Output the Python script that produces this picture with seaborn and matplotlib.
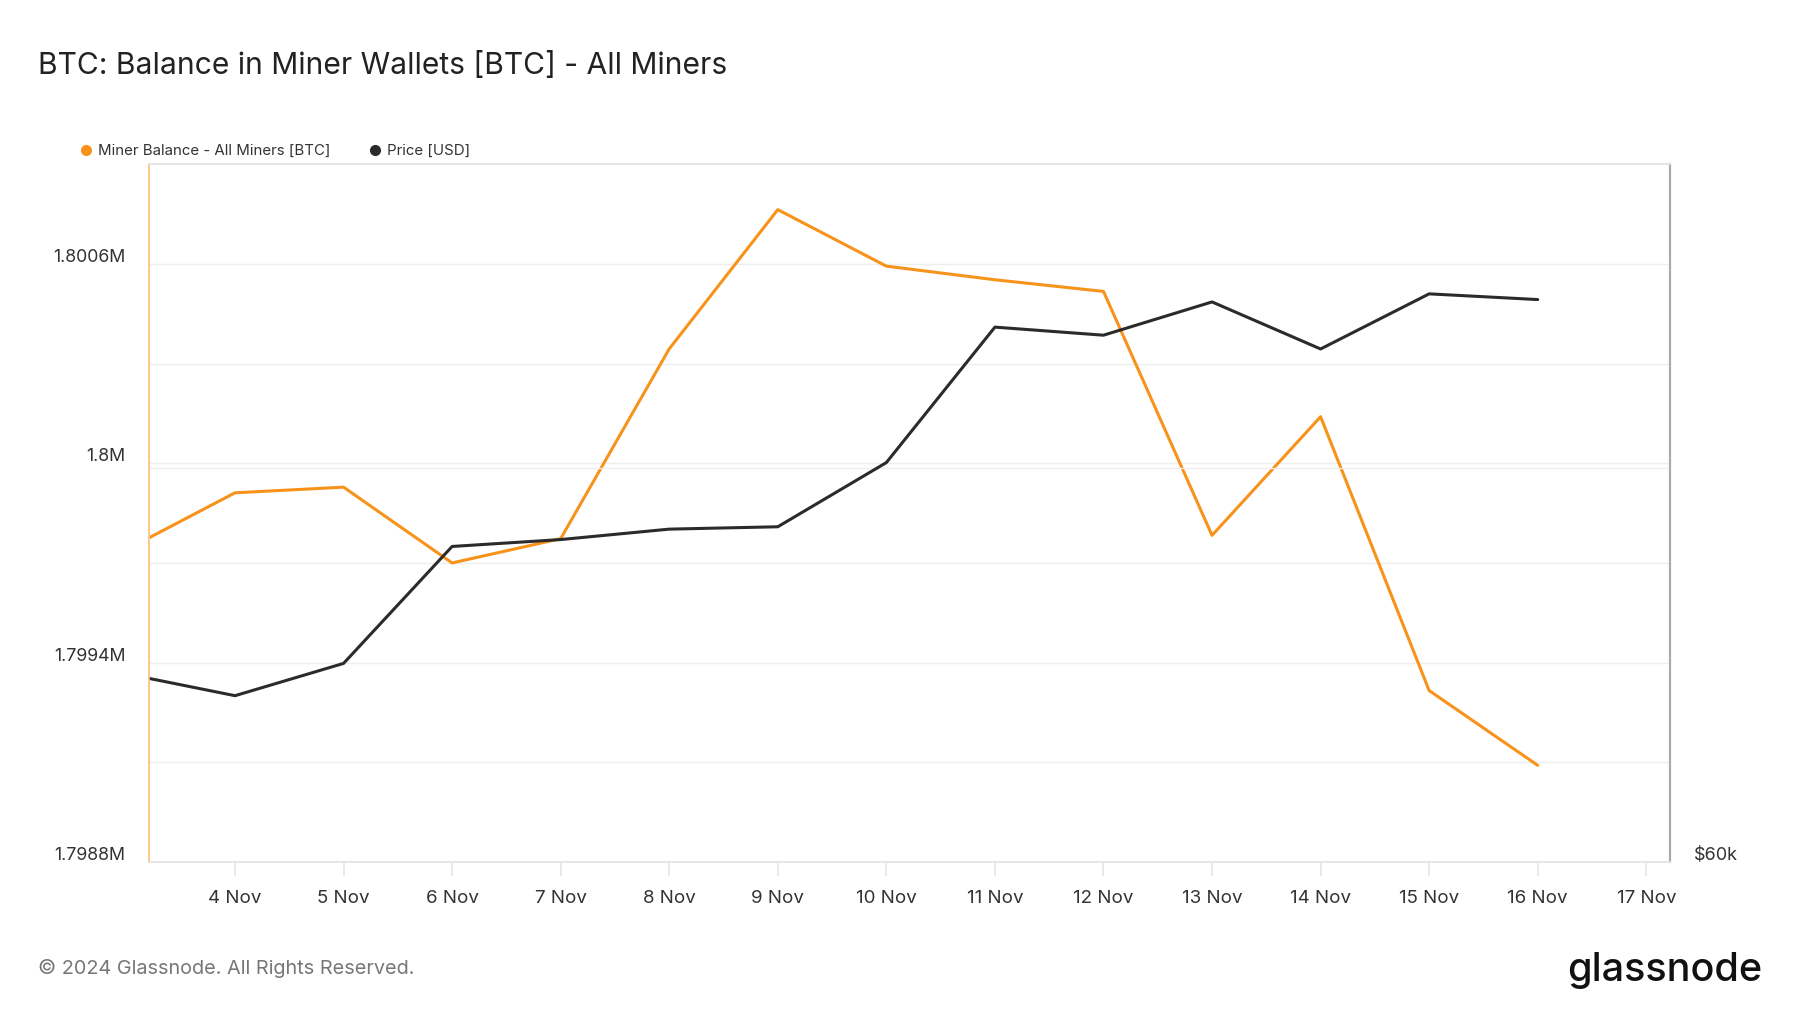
import pandas as pd
import numpy as np
import seaborn as sns
import matplotlib.pyplot as plt
from matplotlib.lines import Line2D
from matplotlib.transforms import ScaledTranslation

# values
dates = pd.date_range("2024-11-03", "2024-11-16", freq="D")
miner_balance = [1799740, 1799911, 1799928, 1799700, 1799773, 1800344, 1800763,
                 1800593, 1800552, 1800517, 1799783, 1800140, 1799316, 1799091]
price_usd = [69560, 68450, 70090, 76030, 76380, 76910, 77030,
             80290, 87170, 86760, 88450, 86060, 88860, 88570]
tick_labels = ["4 Nov", "5 Nov", "6 Nov", "7 Nov", "8 Nov", "9 Nov", "10 Nov",
               "11 Nov", "12 Nov", "13 Nov", "14 Nov", "15 Nov", "16 Nov", "17 Nov"]

df = pd.DataFrame({"date": dates, "balance": miner_balance, "price": price_usd})

ORANGE = "#F7931A"
DARK = "#2B2B2B"

sns.set_theme(style="white")
plt.rcParams["font.family"] = ["Inter", "DejaVu Sans"]

fig = plt.figure(figsize=(18, 10.13), dpi=100)
ax = fig.add_axes([0.0828, 0.149, 0.8452, 0.689])
ax2 = ax.twinx()

sns.lineplot(data=df, x="date", y="balance", ax=ax, color=ORANGE, linewidth=2.2)
sns.lineplot(data=df, x="date", y="price", ax=ax2, color=DARK, linewidth=2.2)

x0 = pd.Timestamp("2024-11-03 05:00")
x1 = pd.Timestamp("2024-11-17 05:20")
ax.set_xlim(x0, x1)
ax.set_ylim(1798800, 1800900)
ax2.set_ylim(60000, 95450)

ticks = pd.date_range("2024-11-04", "2024-11-17", freq="D")
ax.set_xticks(ticks)
ax.set_xticklabels(tick_labels, fontsize=13.5, color="#333333")

ax.set_yticks(np.arange(1798800, 1800900, 300))
ylabels = ["1.7988M", "", "1.7994M", "", "1.8M", "", "1.8006M"]
ax.set_yticklabels(ylabels, fontsize=12.8, color="#333333")
ax.grid(axis="y", color="#EEEEEE", linewidth=1)
ax.grid(axis="x", visible=False)

ax2.set_yticks([60000, 80000])
ax2.set_yticklabels(["$60k", ""], fontsize=13, color="#333333")
ax2.grid(axis="y", color="#EEEEEE", linewidth=1)
ax2.grid(axis="x", visible=False)

ax.set_xlabel("")
ax.set_ylabel("")
ax2.set_ylabel("")

ax.tick_params(axis="y", length=0, pad=17)
ax2.tick_params(axis="y", length=0, pad=17)
ax.tick_params(axis="x", length=10, color="#E6E6E6", pad=10, direction="out", bottom=True)

# lift y labels a bit above their grid lines, as in the original
shift = ScaledTranslation(0, 6 / 72, fig.dpi_scale_trans)
for lab in ax.get_yticklabels() + ax2.get_yticklabels():
    lab.set_transform(lab.get_transform() + shift)

for a in (ax, ax2):
    a.spines["top"].set_color("#E6E6E6")
    a.spines["bottom"].set_color("#E6E6E6")
    a.spines["left"].set_color("#FBC88A")
    a.spines["right"].set_color("#AAAAAA")
    a.spines["left"].set_linewidth(1.2)
    a.spines["right"].set_linewidth(1.5)

handles = [Line2D([], [], marker="o", linestyle="", color=ORANGE, markersize=7),
           Line2D([], [], marker="o", linestyle="", color=DARK, markersize=7)]
fig.legend(handles, ["Miner Balance - All Miners [BTC]", "Price [USD]"],
           loc="center left", bbox_to_anchor=(0.032, 0.851), ncol=2, frameon=False,
           fontsize=10.8, handletextpad=-0.2, columnspacing=2.0, labelcolor="#333333")

fig.text(0.021, 0.935, "BTC: Balance in Miner Wallets [BTC] - All Miners",
         fontsize=21.6, color="#222222", va="center")
fig.text(0.021, 0.044, "\u00a9 2024 Glassnode. All Rights Reserved.",
         fontsize=14.3, color="#777777", va="center")
fig.text(0.979, 0.042, "glassnode", fontsize=28.5, fontweight="medium",
         color="#111111", va="center", ha="right")

fig.savefig("out.png", dpi=100, facecolor="white")
